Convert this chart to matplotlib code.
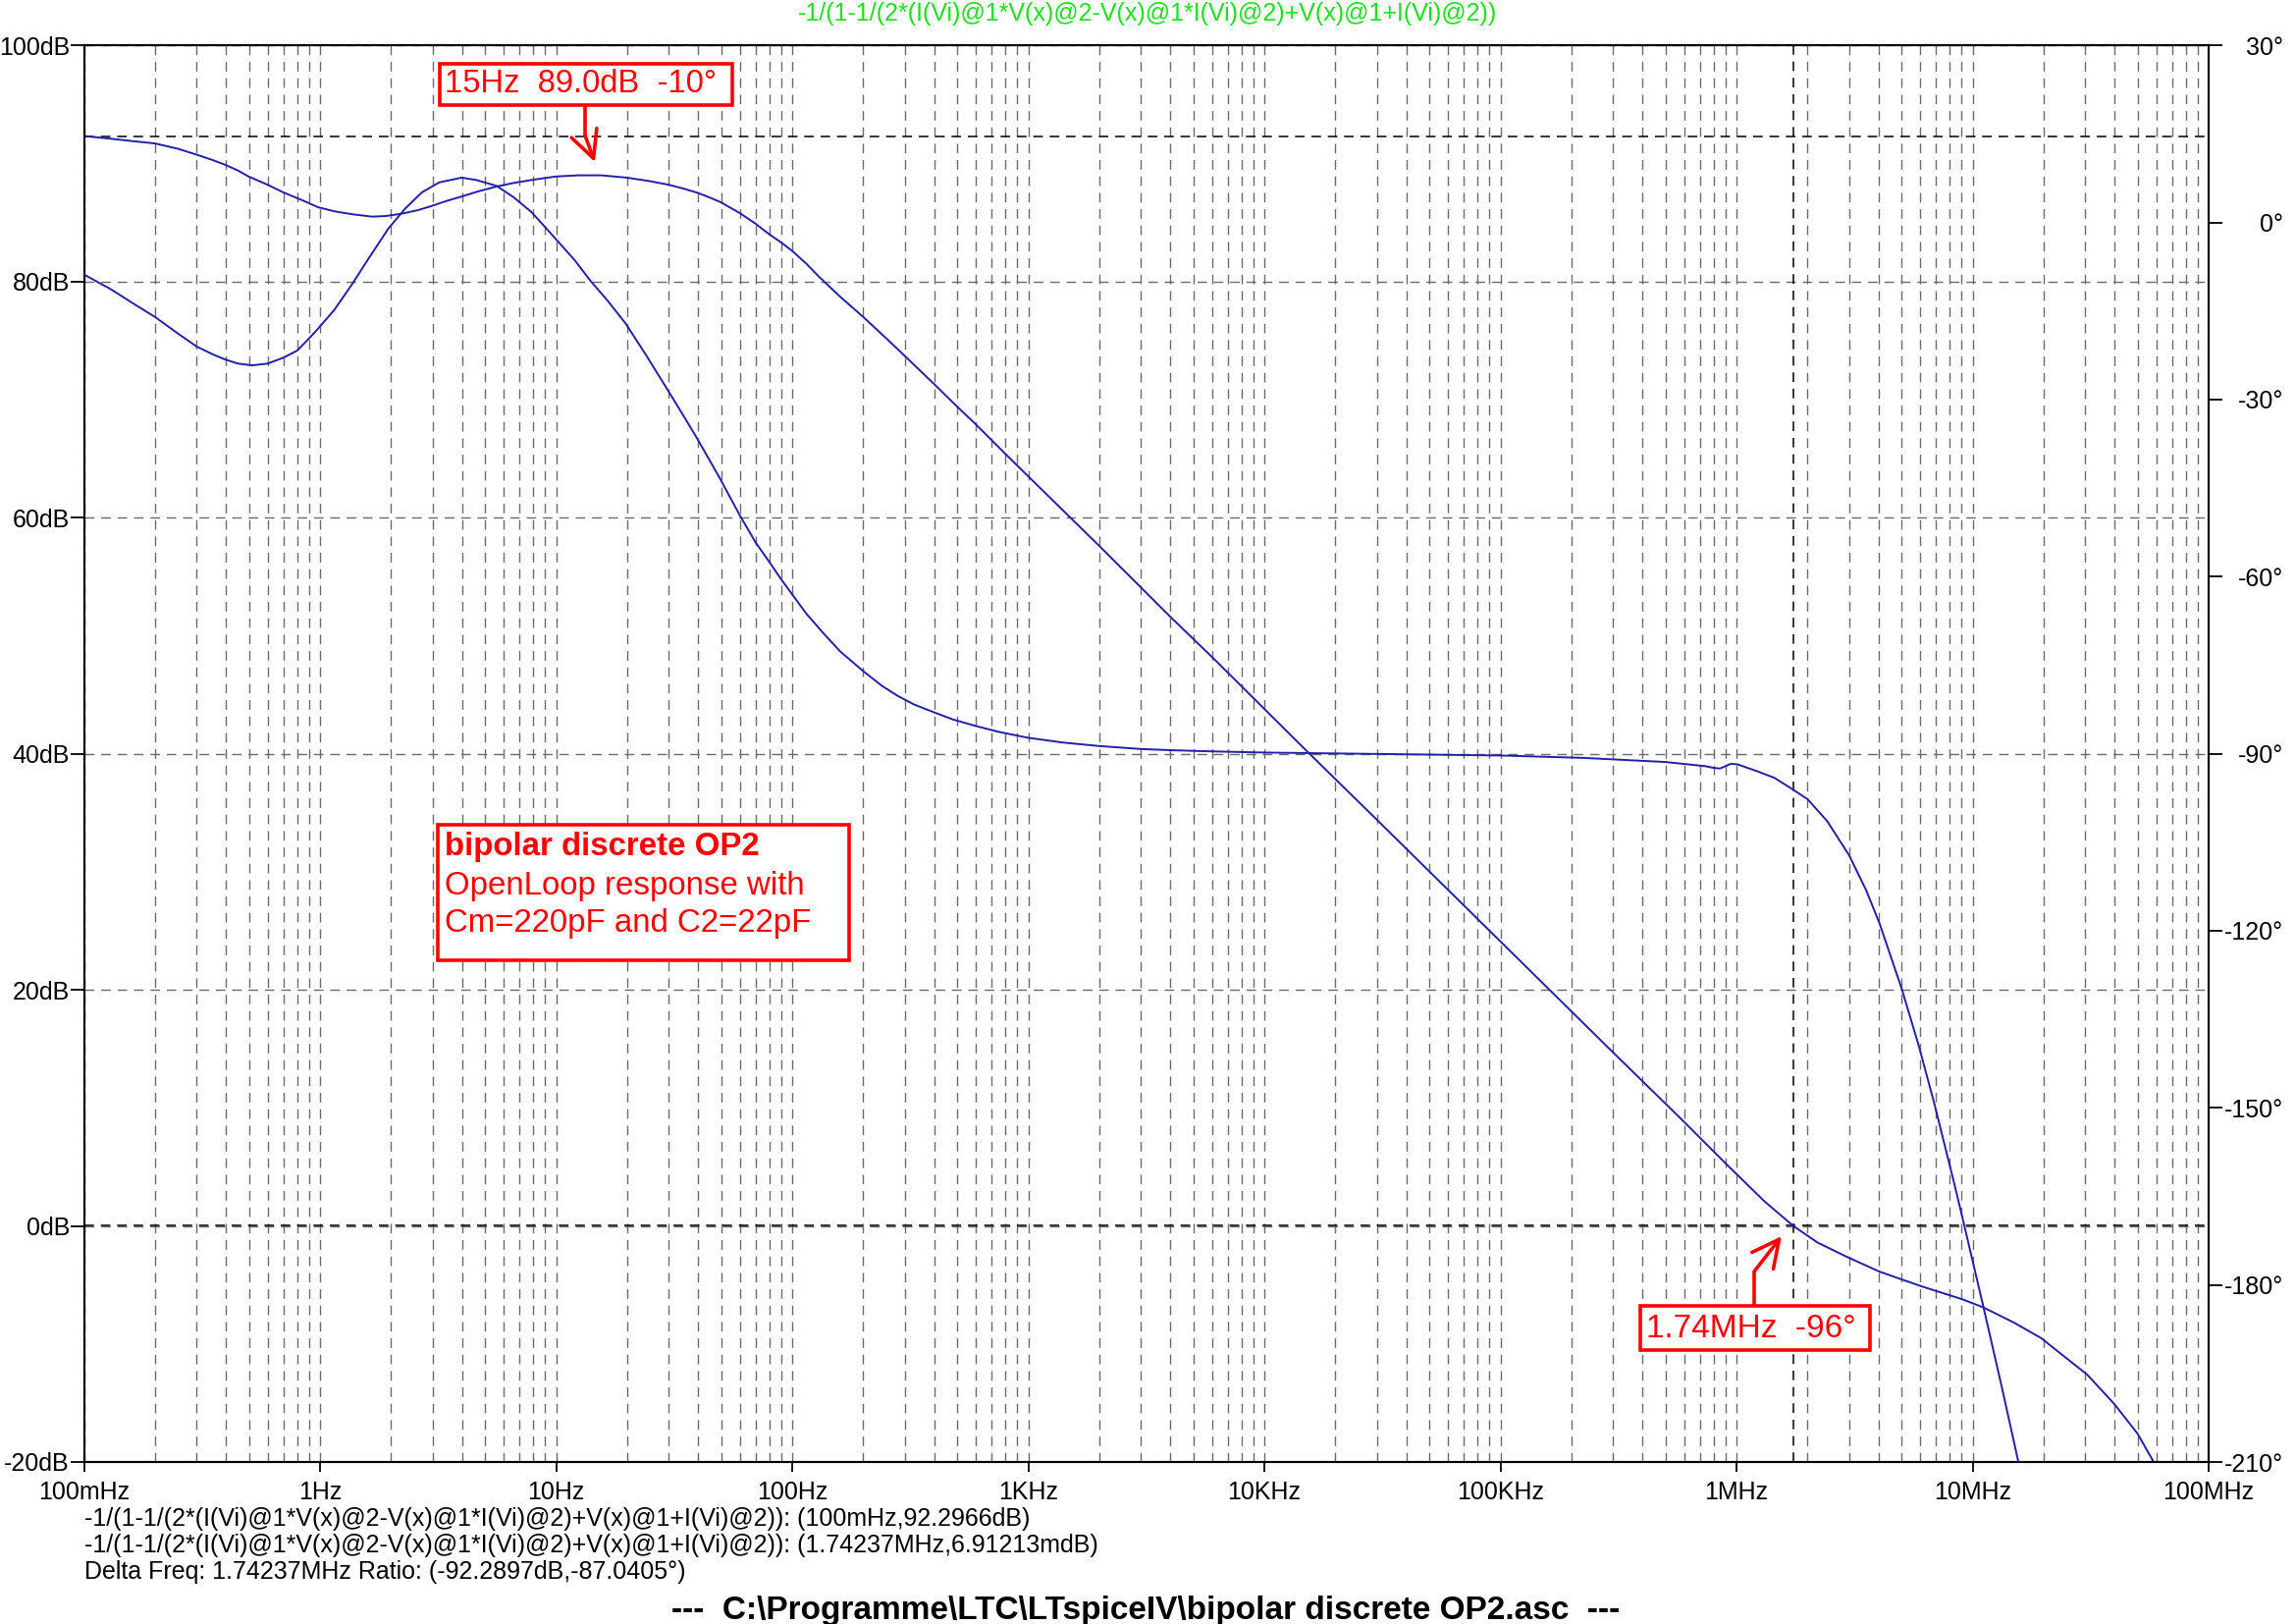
import matplotlib
matplotlib.use('Agg')
import matplotlib.pyplot as plt
from matplotlib.patches import Rectangle, FancyArrowPatch
from matplotlib.lines import Line2D

plt.rcParams['font.family'] = ['Liberation Sans', 'DejaVu Sans']
plt.rcParams['lines.scale_dashes'] = False

# ---------------- data ----------------
mag_freq = [0.1, 0.13, 0.16, 0.2, 0.25, 0.3, 0.35, 0.396, 0.45, 0.498, 0.6, 0.7,
            0.85, 0.98, 1.15, 1.37, 1.66, 1.9, 2.22, 2.6, 2.97, 3.4, 3.98, 4.7,
            5.6, 6.6, 7.85, 10, 12.5, 15.5, 20, 25, 30, 35, 40, 45, 50, 60, 70,
            80, 90, 100, 115, 130, 160, 200, 250, 300, 400, 500, 600, 800,
            1e3, 2e3, 4e3, 6e3, 1e4, 1.5e4, 3e4, 1e5, 3e5, 5.94e5, 9.2e5, 1.0e6,
            1.31e6, 1.74e6, 2.2e6, 2.94e6, 4.03e6, 6.04e6, 9.06e6, 1.11e7, 1.5e7,
            1.95e7, 3.06e7, 3.99e7, 5.0e7, 5.85e7, 6.3e7]
mag_db = [92.33, 92.1, 91.9, 91.7, 91.25, 90.75, 90.3, 89.9, 89.4, 88.9, 88.2, 87.55,
          86.85, 86.3, 85.95, 85.7, 85.5, 85.55, 85.75, 86.05, 86.4, 86.8, 87.2, 87.65,
          88.05, 88.35, 88.6, 88.9, 89.0, 89.0, 88.8, 88.5, 88.2, 87.85, 87.5, 87.1,
          86.7, 85.8, 84.9, 84.0, 83.3, 82.6, 81.5, 80.4, 78.7, 77.0, 75.2, 73.7,
          71.3, 69.4, 67.9, 65.4, 63.5, 57.6, 51.6, 48.2, 43.8, 40.3, 34.4, 24.1,
          14.7, 8.9, 5.1, 4.4, 2.1, 0.0, -1.4, -2.63, -3.87, -5.1, -6.22, -6.9, -8.2,
          -9.5, -12.6, -15.1, -17.6, -20.0, -21.3]

ph_freq = [0.1, 0.13, 0.16, 0.2, 0.25, 0.3, 0.35, 0.396, 0.45, 0.515, 0.6, 0.7, 0.8,
           0.886, 0.98, 1.15, 1.37, 1.6, 1.95, 2.3, 2.7, 3.2, 3.98, 4.6, 5.6, 6.6,
           7.85, 9.0, 10.5, 12, 14.0, 16.5, 19.7, 24, 29, 34, 38.8, 44, 49.5, 55,
           60, 70, 80, 90, 100, 115, 135, 160, 200, 240, 280, 330, 400, 480, 600,
           750, 1e3, 1.4e3, 2e3, 3e3, 4e3, 6e3, 1e4, 4e4, 1e5, 2.23e5, 5.0e5,
           7.36e5, 8.0e5, 8.52e5, 9.48e5, 1.01e6, 1.23e6, 1.45e6, 1.74e6, 2.0e6,
           2.42e6, 3.0e6, 3.55e6, 4.04e6, 5.0e6, 5.92e6, 6.88e6, 8.28e6, 9.06e6,
           1.11e7, 1.33e7, 1.55e7, 1.6e7]
ph_deg = [-8.8, -11.3, -13.6, -16.0, -18.8, -21.0, -22.3, -23.2, -23.9, -24.2, -23.9,
          -22.9, -21.7, -19.9, -18.0, -14.8, -10.4, -6.2, -1.0, 2.4, 5.1, 6.8, 7.6,
          7.2, 6.2, 4.3, 1.8, -0.8, -3.8, -6.4, -9.9, -13.2, -17.1, -22.4, -27.7,
          -32.2, -36.0, -39.8, -43.4, -46.8, -49.6, -54.2, -57.5, -60.5, -63.0, -66.3,
          -69.5, -72.7, -76.0, -78.5, -80.2, -81.7, -83.0, -84.2, -85.3, -86.3, -87.3,
          -88.1, -88.7, -89.2, -89.4, -89.6, -89.8, -90.1, -90.3, -90.7, -91.4, -92.1,
          -92.4, -92.5, -91.7, -91.8, -93.0, -94.1, -96.1, -97.7, -101.4, -107.2,
          -113.2, -118.8, -129.7, -139.5, -149.2, -162.1, -168.6, -183.6, -197.3,
          -209.3, -211.8]

db_ticks = [-20, 0, 20, 40, 60, 80, 100]
db_labels = ['-20dB', '0dB', '20dB', '40dB', '60dB', '80dB', '100dB']
deg_ticks = [-210, -180, -150, -120, -90, -60, -30, 0, 30]
deg_labels = ['-210°', '-180°', '-150°', '-120°', '-90°', '-60°', '-30°', '0°', '30°']
f_ticks = [0.1, 1, 10, 100, 1e3, 1e4, 1e5, 1e6, 1e7, 1e8]
f_labels = ['100mHz', '1Hz', '10Hz', '100Hz', '1KHz', '10KHz', '100KHz', '1MHz',
            '10MHz', '100MHz']

cursor1 = (0.1, 92.2966)
cursor2 = (1.74237e6, 0.00691213)

expr = '-1/(1-1/(2*(I(Vi)@1*V(x)@2-V(x)@1*I(Vi)@2)+V(x)@1+I(Vi)@2))'
info1 = expr + ': (100mHz,92.2966dB)'
info2 = expr + ': (1.74237MHz,6.91213mdB)'
info3 = 'Delta Freq: 1.74237MHz Ratio: (-92.2897dB,-87.0405°)'
title = '---  C:\\Programme\\LTC\\LTspiceIV\\bipolar discrete OP2.asc  ---'
note1 = '15Hz  89.0dB  -10°'
note2a = 'bipolar discrete OP2'
note2b = 'OpenLoop response with'
note2c = 'Cm=220pF and C2=22pF'
note3 = '1.74MHz  -96°'

# ---------------- layout ----------------
W, H = 2339, 1654
fig = plt.figure(figsize=(W / 100, H / 100), dpi=100)
fig.patch.set_facecolor('white')
L, R, T, B = 85.5, 2250, 46.3, 1489


def fx(x):
    return x / W


def fy(y):
    return 1 - y / H


ax = fig.add_axes([fx(L), fy(B), (R - L) / W, (B - T) / H])
ax2 = ax.twinx()

CURVE = '#2020A8'
GRID = '#6A6A6A'
dash = (0, (7, 5))

ax.set_xscale('log')
ax.set_xlim(0.1, 1e8)
ax.set_ylim(-20, 100)
ax2.set_ylim(-210, 30)

ax.set_xticks(f_ticks)
ax.set_xticklabels(f_labels)
ax.xaxis.set_minor_locator(matplotlib.ticker.LogLocator(base=10, subs=range(2, 10), numticks=100))
ax.xaxis.set_minor_formatter(matplotlib.ticker.NullFormatter())
ax.set_yticks(db_ticks)
ax.set_yticklabels(db_labels)
ax2.set_yticks(deg_ticks)
ax2.set_yticklabels(deg_labels)

ax.grid(True, which='both', axis='x', color=GRID, lw=1.0, linestyle=dash)
ax.grid(True, which='major', axis='y', color=GRID, lw=1.0, linestyle=dash)
ax.set_axisbelow(True)

ax.tick_params(axis='x', which='major', direction='out', length=7, width=1.3,
               labelsize=18, pad=6.5)
ax.tick_params(axis='x', which='minor', length=0)
ax.tick_params(axis='y', direction='out', length=10, width=1.3, labelsize=18, pad=0.5)
ax2.tick_params(axis='y', direction='out', length=10, width=1.3, labelsize=18, pad=45)
for lab in ax2.get_yticklabels():
    lab.set_horizontalalignment('right')

for a in (ax, ax2):
    for s in a.spines.values():
        s.set_linewidth(1.5)
        s.set_color('black')

# cursor lines
ax.axhline(cursor1[1], color='black', lw=1.1, linestyle=dash, zorder=1.5)
ax.axhline(cursor2[1], color='black', lw=1.1, linestyle=dash, zorder=1.5)
ax.axvline(cursor2[0], color='black', lw=1.1, linestyle=dash, zorder=1.5)

ax.plot(mag_freq, mag_db, color=CURVE, lw=1.4, zorder=3)
ax2.plot(ph_freq, ph_deg, color=CURVE, lw=1.4, zorder=3)

# ---------------- texts ----------------
fig.text(fx(1169), fy(14), expr, color='#1EE01E', fontsize=18, ha='center', va='center')
for i, s in enumerate([info1, info2, info3]):
    fig.text(fx(86), fy(1547 + 27 * i), s, fontsize=18, ha='left', va='center')
fig.text(fx(1167), fy(1640), title, fontsize=24, weight='bold', ha='center', va='center')

RED = '#FF0000'


def box(x0, y0, x1, y1):
    fig.add_artist(Rectangle((fx(x0), fy(y1)), (x1 - x0) / W, (y1 - y0) / H,
                             transform=fig.transFigure, facecolor='white',
                             edgecolor=RED, lw=2.6, zorder=5))


def arrow(pts):
    xs = [fx(p[0]) for p in pts[:-1]]
    ys = [fy(p[1]) for p in pts[:-1]]
    fig.add_artist(Line2D(xs, ys, transform=fig.transFigure, color=RED, lw=2.6,
                          solid_capstyle='butt', zorder=6))
    (bx, by), (tx, ty) = pts[-2], pts[-1]
    fig.add_artist(FancyArrowPatch(
        (fx(bx), fy(by)), (fx(tx), fy(ty)), transform=fig.transFigure,
        arrowstyle='->,head_length=0.9,head_width=0.45', mutation_scale=22,
        color=RED, lw=2.6, shrinkA=0, shrinkB=0, zorder=6))


box(448, 65, 746, 107)
fig.text(fx(453), fy(86), note1, color=RED, fontsize=23.6, ha='left', va='center', zorder=7)
arrow([(596, 107), (596, 138), (606, 165)])

box(446, 840, 865, 978)
fig.text(fx(453), fy(862), note2a, color=RED, fontsize=23.8, weight='bold', ha='left',
         va='center', zorder=7)
fig.text(fx(453), fy(902), note2b, color=RED, fontsize=23.8, ha='left', va='center', zorder=7)
fig.text(fx(453), fy(940), note2c, color=RED, fontsize=23.8, ha='left', va='center', zorder=7)

box(1671, 1330, 1905, 1375)
fig.text(fx(1677), fy(1353), note3, color=RED, fontsize=24, ha='left', va='center', zorder=7)
arrow([(1787, 1330), (1787, 1295), (1815, 1259)])

fig.savefig('out.png', dpi=100, facecolor='white')
